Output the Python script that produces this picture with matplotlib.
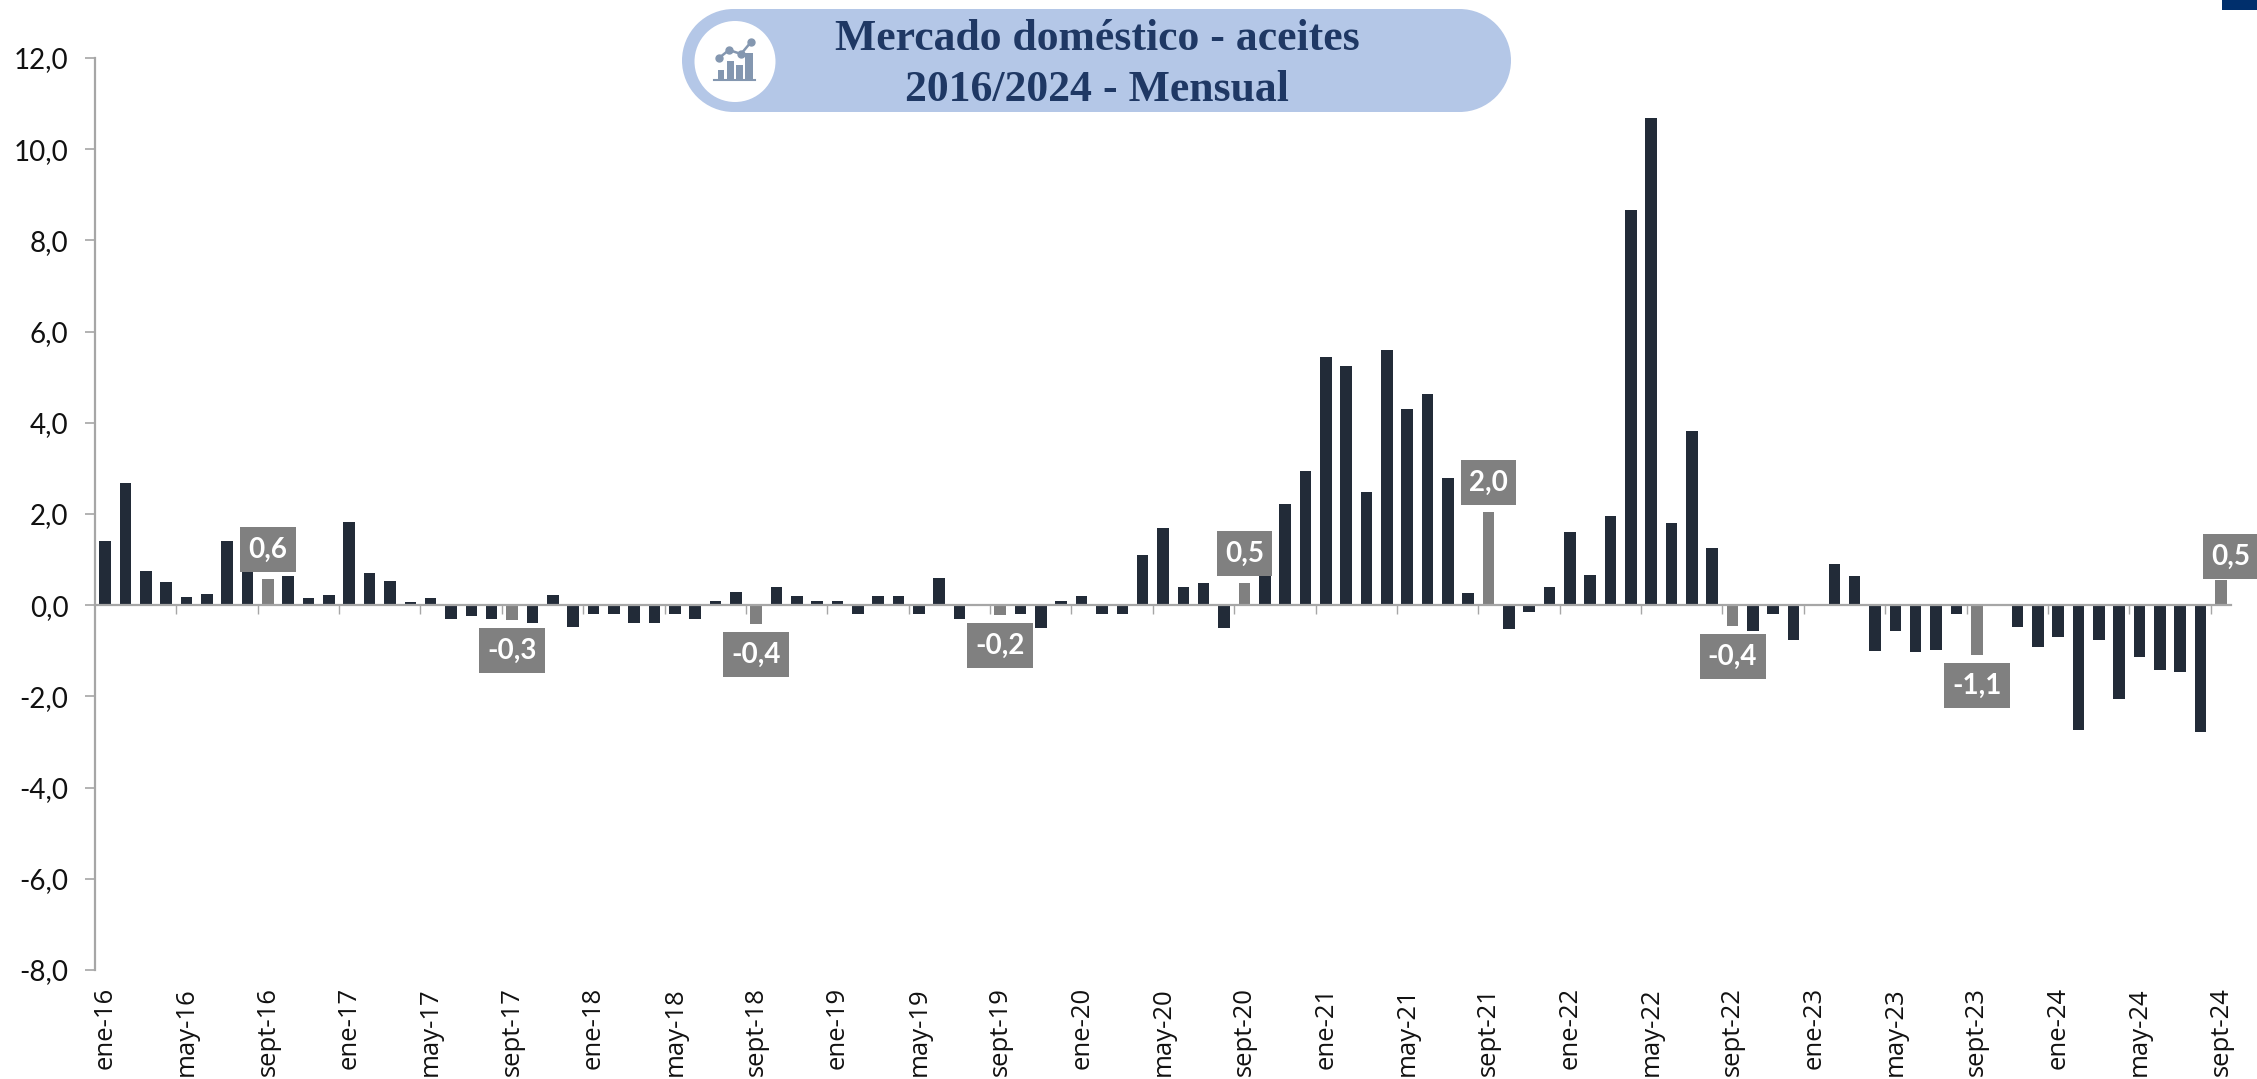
import matplotlib
matplotlib.use('Agg')
import matplotlib.pyplot as plt
from matplotlib.patches import Circle, Rectangle

W, H = 2257, 1079

values = [
    1.40, 2.68, 0.75, 0.50, 0.17, 0.25, 1.40, 0.90, 0.57, 0.64, 0.15, 0.23,
    1.83, 0.70, 0.54, 0.07, 0.15, -0.31, -0.24, -0.31, -0.33, -0.39, 0.23, -0.47,
    -0.20, -0.20, -0.40, -0.40, -0.20, -0.31, 0.10, 0.30, -0.41, 0.40, 0.20, 0.10,
    0.10, -0.20, 0.20, 0.20, -0.20, 0.60, -0.31, 0.00, -0.22, -0.20, -0.51, 0.10,
    0.20, -0.20, -0.20, 1.11, 1.70, 0.39, 0.48, -0.50, 0.48, 0.80, 2.21, 2.94,
    5.44, 5.24, 2.49, 5.59, 4.30, 4.63, 2.80, 0.27, 2.04, -0.53, -0.14, 0.40,
    1.60, 0.66, 1.96, 8.66, 10.68, 1.81, 3.82, 1.26, -0.46, -0.56, -0.20, -0.76,
    0.00, 0.91, 0.65, -1.00, -0.56, -1.02, -0.98, -0.20, -1.10, 0.00, -0.47, -0.91,
    -0.70, -2.74, -0.77, -2.06, -1.14, -1.43, -1.46, -2.78, 0.55,
]
tick_labels = [
    'ene-16', 'may-16', 'sept-16', 'ene-17', 'may-17', 'sept-17', 'ene-18', 'may-18', 'sept-18',
    'ene-19', 'may-19', 'sept-19', 'ene-20', 'may-20', 'sept-20', 'ene-21', 'may-21', 'sept-21',
    'ene-22', 'may-22', 'sept-22', 'ene-23', 'may-23', 'sept-23', 'ene-24', 'may-24', 'sept-24',
]
y_ticks = [12, 10, 8, 6, 4, 2, 0, -2, -4, -6, -8]
sept_labels = ['0,6', '-0,3', '-0,4', '-0,2', '0,5', '2,0', '-0,4', '-1,1', '0,5']

DARK = '#222b38'
GREY = '#808080'
AXIS = '#a6a6a6'

fig = plt.figure(figsize=(W / 100, H / 100), dpi=100, facecolor='white')
ax = fig.add_axes([95 / W, (H - 970) / H, (2231 - 95) / W, (970 - 58) / H])

# spine has to move first, set_position resets the ticks
for s in ['top', 'right']:
    ax.spines[s].set_visible(False)
ax.spines['bottom'].set_position(('data', 0))
for s in ['left', 'bottom']:
    ax.spines[s].set_color(AXIS)
    ax.spines[s].set_linewidth(1.6)

# every september is highlighted in grey
positions = list(range(len(values)))
colors = [GREY if i % 12 == 8 else DARK for i in positions]
ax.bar(positions, values, width=0.57, color=colors, zorder=2)

ax.set_xlim(-0.5, 104.5)
ax.set_ylim(-8, 12)
ax.set_yticks(y_ticks)
ax.set_yticklabels([f'{v:.1f}'.replace('.', ',') for v in y_ticks],
                   family='Lato', fontsize=20, color='#111111')
ax.tick_params(axis='y', length=7, width=1.2, color=AXIS, pad=12)

label_pos = positions[::4]
ax.set_xticks(label_pos)
ax.set_xticklabels(tick_labels, rotation=90, family='Open Sans', fontsize=18.5,
                   color='#111111', va='top', ha='center')
ax.tick_params(axis='x', which='major', length=0, pad=275)
ax.set_xticks([p + 3.5 for p in label_pos[:-1]], minor=True)
ax.tick_params(axis='x', which='minor', length=6.5, width=1, color=AXIS)

# grey value boxes over the september bars
sept_idx = [i for i in positions if i % 12 == 8]
for n, (i, txt) in enumerate(zip(sept_idx, sept_labels)):
    v = values[i]
    dy = 32 if v > 0 else -28
    dx = 0
    if n == len(sept_idx) - 1:
        dx, dy = 10, 26
    ax.annotate(txt, (i, v), xytext=(dx, dy), textcoords='offset pixels',
                ha='center', va='center_baseline', family='Lato', fontweight='bold',
                fontsize=20, color='white', zorder=5, annotation_clip=False,
                bbox=dict(boxstyle='square,pad=0.3', fc=GREY, ec=GREY, lw=0, mutation_aspect=1.15))

# overlay in pixel coordinates for the title pill and corner mark
ov = fig.add_axes([0, 0, 1, 1], facecolor='none')
ov.set_xlim(0, W)
ov.set_ylim(H, 0)
ov.axis('off')
PILL = '#b4c7e7'
ov.add_patch(Rectangle((733, 9), 727, 103, fc=PILL, ec='none'))
ov.add_patch(Circle((733.5, 60.5), 51.5, fc=PILL, ec='none'))
ov.add_patch(Circle((1459.5, 60.5), 51.5, fc=PILL, ec='none'))
ov.add_patch(Circle((735, 61.5), 40.5, fc='white', ec='none'))
ICON = '#8497b0'
for x0, w, h in [(718, 6, 9), (727, 7, 18), (736, 7, 14), (745, 8, 26)]:
    ov.add_patch(Rectangle((x0, 79 - h), w, h, fc=ICON, ec='none'))
ov.plot([714, 755], [80, 80], color=ICON, lw=1.5)
ov.plot([719, 729, 741, 751], [58, 50, 54, 42], color=ICON, lw=1.8, marker='o', ms=5)
ov.text(1097, 39, 'Mercado doméstico - aceites', family='Liberation Serif', fontweight='bold',
        fontsize=31.5, color='#1f3864', ha='center', va='center')
ov.text(1097, 90, '2016/2024 - Mensual', family='Liberation Serif', fontweight='bold',
        fontsize=31.5, color='#1f3864', ha='center', va='center')
ov.add_patch(Rectangle((2222, 0), 35, 10, fc='#002f6c', ec='none'))

fig.savefig('out.png', dpi=100)
